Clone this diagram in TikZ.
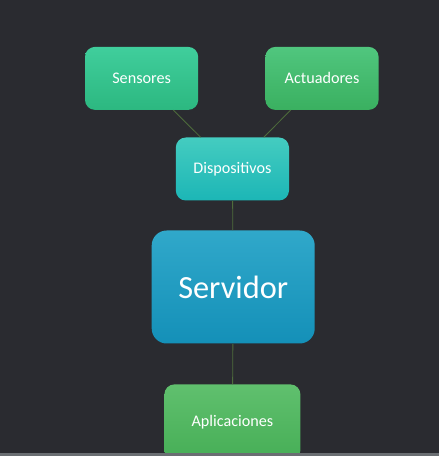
\documentclass[tikz,border=0pt]{standalone}
\usepackage{fontspec}
\setmainfont{Carlito}
\usepackage{tikz}

\definecolor{fondo}{RGB}{42,43,48}
\definecolor{linea}{RGB}{78,108,60}
\definecolor{franja}{RGB}{106,110,114}

\begin{document}
\begin{tikzpicture}[
    caja/.style={rounded corners=0.25cm,minimum width=2.83cm,minimum height=1.575cm,text=white,font=\fontsize{11.5}{13}\selectfont,inner sep=0pt},
    enlace/.style={draw=linea,line width=0.6pt}
]
% Fondo
\fill[fondo] (0,0) rectangle (10.975,11.4);
\clip (0,0) rectangle (10.975,11.4);
% Cajas
\node[caja,top color={rgb,255:red,64;green,206;blue,156},bottom color={rgb,255:red,44;green,184;blue,128}] (sen) at (3.54,9.44) {Sensores};
\node[caja,top color={rgb,255:red,80;green,198;blue,126},bottom color={rgb,255:red,58;green,176;blue,96}] (act) at (8.05,9.44) {Actuadores};
\node[caja,top color={rgb,255:red,68;green,204;blue,192},bottom color={rgb,255:red,28;green,182;blue,182}] (dis) at (5.81,7.175) {Dispositivos};
\node[caja,rounded corners=0.375cm,minimum width=4.075cm,minimum height=2.825cm,font=\fontsize{23}{26}\selectfont,top color={rgb,255:red,48;green,168;blue,202},bottom color={rgb,255:red,20;green,144;blue,184}] (ser) at (5.83,4.225) {Servidor};
\node[caja,minimum width=3.4cm,minimum height=1.9cm,top color={rgb,255:red,96;green,192;blue,110},bottom color={rgb,255:red,70;green,174;blue,86}] (apl) at (5.81,0.84) {Aplicaciones};
% Enlaces
\draw[enlace] (sen) -- (dis);
\draw[enlace] (act) -- (dis);
\draw[enlace] (dis) -- (ser);
\draw[enlace] (ser) -- (apl);
% Franja inferior
\fill[franja] (0,0) rectangle (10.975,0.075);
\end{tikzpicture}
\end{document}
